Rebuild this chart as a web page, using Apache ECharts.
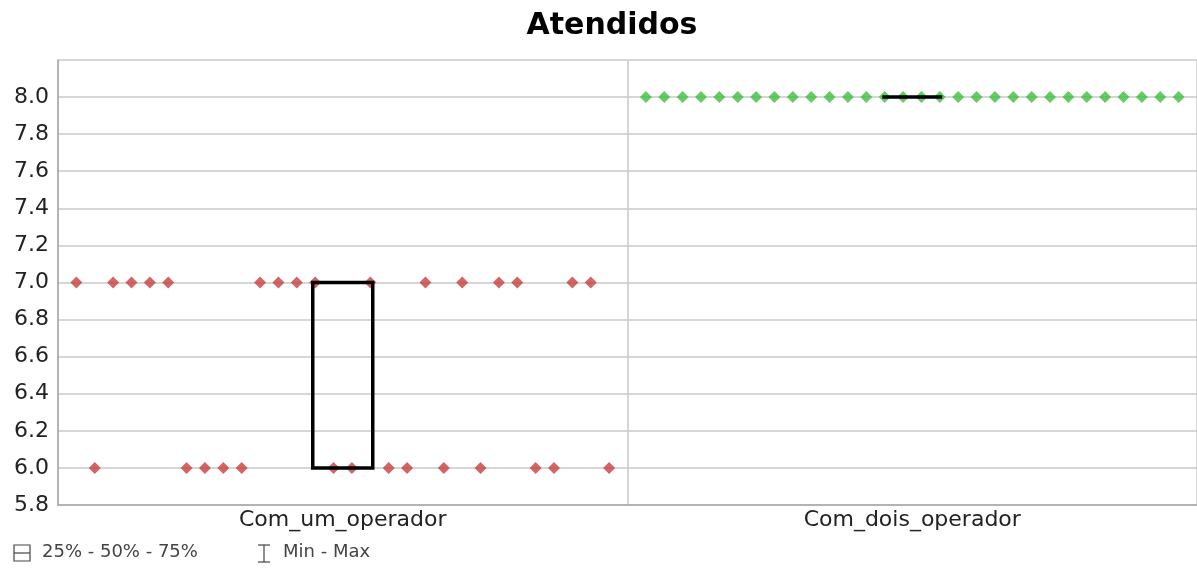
<!DOCTYPE html>
<html>
<head>
<meta charset="utf-8">
<script src="https://cdn.jsdelivr.net/npm/echarts@6/dist/echarts.min.js"></script>
<style>
  html, body { margin: 0; padding: 0; background: #fff; }
  #chart { width: 1197px; height: 568px; }
</style>
</head>
<body>
<div id="chart"></div>
<script>
// categorias e observações (na ordem em que aparecem)
var categories = ['Com_um_operador', 'Com_dois_operador'];
var comUm = [7, 6, 7, 7, 7, 7, 6, 6, 6, 6, 7, 7, 7, 7, 6, 6, 7, 6, 6, 7, 6, 7, 6, 7, 7, 6, 6, 7, 7, 6];
var comDois = [8, 8, 8, 8, 8, 8, 8, 8, 8, 8, 8, 8, 8, 8, 8, 8, 8, 8, 8, 8, 8, 8, 8, 8, 8, 8, 8, 8, 8, 8];
var pointColors = ['#c83f3f', '#3fbf3f'];
var legendItems = ['25% - 50% - 75%', 'Min - Max'];

var FONT = 'DejaVu Sans';

function quantile(sorted, p) {
    var pos = (sorted.length - 1) * p;
    var lo = Math.floor(pos), hi = Math.ceil(pos);
    return sorted[lo] + (sorted[hi] - sorted[lo]) * (pos - lo);
}
function boxStats(arr) {
    var s = arr.slice().sort(function (a, b) { return a - b; });
    return [s[0], quantile(s, 0.25), quantile(s, 0.5), quantile(s, 0.75), s[s.length - 1]];
}

var groups = [comUm, comDois];
var slot = comUm.length + 1; // largura de cada categoria no eixo escondido

var chart = echarts.init(document.getElementById('chart'));

var scatterSeries = groups.map(function (vals, k) {
    return {
        type: 'scatter',
        xAxisIndex: 1,
        symbol: 'diamond',
        symbolSize: 12,
        itemStyle: { color: pointColors[k] },
        z: 3,
        data: vals.map(function (v, i) { return [k * slot + i + 1, v]; })
    };
});

chart.setOption({
    animation: false,
    title: {
        text: 'Atendidos',
        left: 607,
        textAlign: 'center',
        top: 6,
        textStyle: { fontFamily: FONT, fontSize: 30, fontWeight: 'bold', color: '#000' }
    },
    grid: { left: 58, right: 0, top: 60, bottom: 63 },
    xAxis: [{
        type: 'category',
        data: categories,
        boundaryGap: true,
        axisLine: { lineStyle: { color: '#a8a8a8', width: 1.5 } },
        axisTick: { show: false },
        splitLine: { show: true, interval: 0, lineStyle: { color: '#c8c8c8', width: 1.5 } },
        axisLabel: { fontFamily: FONT, fontSize: 22, color: '#222', margin: 4 }
    }, {
        type: 'value',
        min: 0,
        max: slot * 2,
        show: false
    }],
    yAxis: {
        type: 'value',
        min: 5.8,
        max: 8.2,
        interval: 0.2,
        axisLine: { show: true, lineStyle: { color: '#a8a8a8', width: 1.5 } },
        axisTick: { show: false },
        splitLine: { lineStyle: { color: '#c8c8c8', width: 1.5 } },
        axisLabel: {
            fontFamily: FONT, fontSize: 22, color: '#222', margin: 9,
            formatter: function (v) { return v > 8.1 ? '' : v.toFixed(1); }
        }
    },
    series: [{
        type: 'boxplot',
        xAxisIndex: 0,
        boxWidth: [60, 60],
        z: 4,
        itemStyle: { color: 'rgba(0,0,0,0)', borderColor: '#000', borderWidth: 3.5 },
        data: groups.map(boxStats)
    }].concat(scatterSeries),
    graphic: [
        { type: 'rect', shape: { x: 14, y: 545, width: 16, height: 16 }, style: { fill: 'none', stroke: '#444', lineWidth: 1.2 } },
        { type: 'line', shape: { x1: 14, y1: 553, x2: 30, y2: 553 }, style: { stroke: '#444', lineWidth: 1.2 } },
        { type: 'text', left: 42, top: 543, style: { text: legendItems[0], font: '18px "DejaVu Sans"', fill: '#444' } },
        { type: 'line', shape: { x1: 264, y1: 545, x2: 264, y2: 562 }, style: { stroke: '#444', lineWidth: 1.2 } },
        { type: 'line', shape: { x1: 258, y1: 545, x2: 270, y2: 545 }, style: { stroke: '#444', lineWidth: 1.2 } },
        { type: 'line', shape: { x1: 258, y1: 562, x2: 270, y2: 562 }, style: { stroke: '#444', lineWidth: 1.2 } },
        { type: 'text', left: 283, top: 543, style: { text: legendItems[1], font: '18px "DejaVu Sans"', fill: '#444' } }
    ]
});
</script>
</body>
</html>
